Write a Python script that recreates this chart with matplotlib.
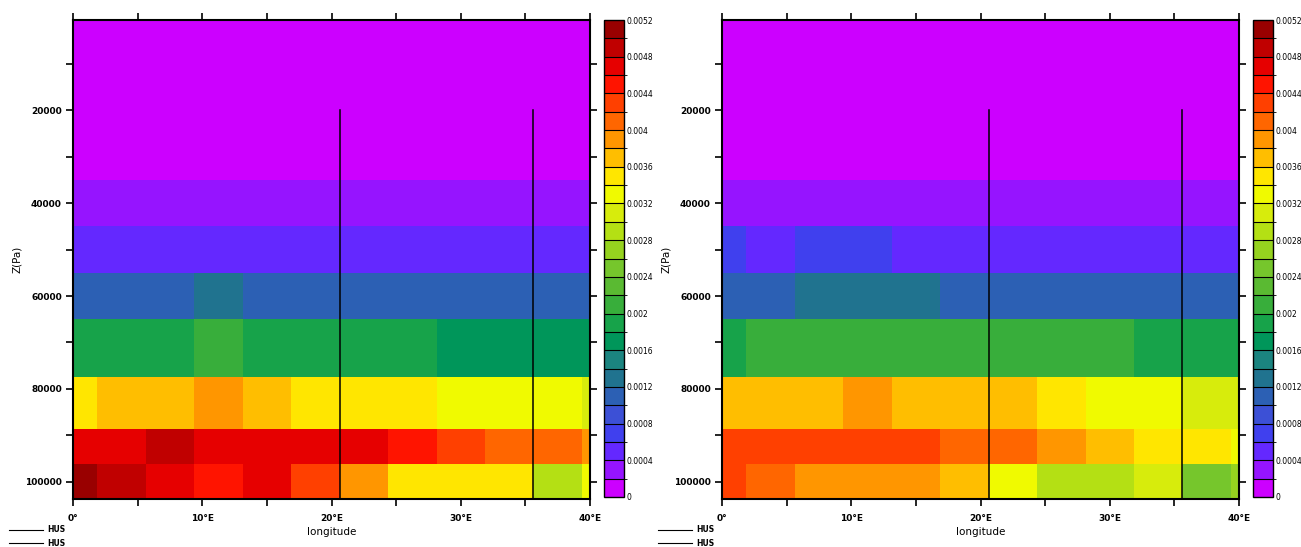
import numpy as np
import matplotlib
matplotlib.use('Agg')
import matplotlib.pyplot as plt
from matplotlib.colors import ListedColormap, BoundaryNorm

plt.rcParams['font.family'] = ['DejaVu Sans']

# pressure levels (Pa) and longitudes (deg E), grid centres
plev = [100000, 92500, 85000, 70000, 60000, 50000, 40000, 30000, 25000,
        20000, 15000, 10000, 7000, 5000, 3000, 2000, 1000]
lon = [0, 3.75, 7.5, 11.25, 15, 18.75, 22.5, 26.25, 30, 33.75, 37.5, 41.25]

# upper levels: same value along longitude (30000 Pa -> 1000 Pa)
upper_hus = [0.00015, 0.0001, 0.00006, 0.00003, 0.000008, 0.000004,
             0.000003, 0.000003, 0.000003, 0.000003]

# left panel, per level (kg/kg)
left_1000 = [0.0051, 0.0049, 0.0047, 0.0045, 0.0047, 0.0043, 0.0039, 0.0035, 0.0035, 0.0035, 0.0029, 0.0033]
left_925 = [0.0047, 0.0047, 0.0049, 0.0047, 0.0047, 0.0047, 0.0047, 0.0045, 0.0043, 0.0041, 0.0041, 0.0039]
left_850 = [0.0035, 0.0037, 0.0037, 0.0039, 0.0037, 0.0035, 0.0035, 0.0035, 0.0033, 0.0033, 0.0033, 0.0031]
left_700 = [0.0019, 0.0019, 0.0019, 0.0021, 0.0019, 0.0019, 0.0019, 0.0019, 0.0017, 0.0017, 0.0017, 0.0017]
left_600 = [0.0011, 0.0011, 0.0011, 0.0013, 0.0011, 0.0011, 0.0011, 0.0011, 0.0011, 0.0011, 0.0011, 0.0011]
left_500 = [0.0005] * 12
left_400 = [0.0003] * 12

# right panel, per level (kg/kg)
right_1000 = [0.0043, 0.0041, 0.0039, 0.0039, 0.0039, 0.0037, 0.0033, 0.0029, 0.0029, 0.0031, 0.0025, 0.0027]
right_925 = [0.0043, 0.0043, 0.0043, 0.0043, 0.0043, 0.0041, 0.0041, 0.0039, 0.0037, 0.0035, 0.0035, 0.0033]
right_850 = [0.0037, 0.0037, 0.0037, 0.0039, 0.0037, 0.0037, 0.0037, 0.0035, 0.0033, 0.0033, 0.0031, 0.0031]
right_700 = [0.0019, 0.0021, 0.0021, 0.0021, 0.0021, 0.0021, 0.0021, 0.0021, 0.0021, 0.0019, 0.0019, 0.0019]
right_600 = [0.0011, 0.0011, 0.0013, 0.0013, 0.0013, 0.0011, 0.0011, 0.0011, 0.0011, 0.0011, 0.0011, 0.0011]
right_500 = [0.0007, 0.0005, 0.0007, 0.0007, 0.0005, 0.0005, 0.0005, 0.0005, 0.0005, 0.0005, 0.0005, 0.0005]
right_400 = [0.0003] * 12

# vertical HUS lines
line_lon = [20.625, 35.625]
line_top = 20000

levels = np.round(np.arange(0, 0.00521, 0.0002), 5)
colors = ['#cc00ff', '#9614ff', '#6428ff', '#4040ee', '#3c50d6', '#2c60b4',
          '#20738f', '#1b8480', '#00965a', '#17a34a', '#38ae3b', '#5aba32',
          '#76c62c', '#96d31f', '#b4e014', '#d7ec0c', '#f0fa00', '#ffe600',
          '#ffbe00', '#ff9600', '#ff6600', '#ff4000', '#ff1400', '#e60000',
          '#c00000', '#990000']
cmap = ListedColormap(colors)
norm = BoundaryNorm(levels, cmap.N)


def build(rows):
    upper = [[v] * len(lon) for v in upper_hus]
    return np.array(rows + upper)


panels = [
    build([left_1000, left_925, left_850, left_700, left_600, left_500, left_400]),
    build([right_1000, right_925, right_850, right_700, right_600, right_500, right_400]),
]

W, H = 1301, 547
fig = plt.figure(figsize=(W / 100, H / 100), dpi=100)

ax_pos = [(73, 20, 590, 499), (722, 20, 1239, 499)]
cb_pos = [(604, 20, 624, 497), (1253, 20, 1273, 497)]

for data, (x0, y0, x1, y1), (c0, cy0, c1, cy1), lx in zip(panels, ax_pos, cb_pos, [9, 658]):
    ax = fig.add_axes([x0 / W, 1 - y1 / H, (x1 - x0) / W, (y1 - y0) / H])
    mesh = ax.pcolormesh(lon, plev, data, cmap=cmap, norm=norm, shading='nearest')
    ax.set_xlim(0, 40)
    ax.set_ylim(103750, 500)

    hl = []
    for xl in line_lon:
        h, = ax.plot([xl, xl], [line_top, 103750], color='black', lw=1.1)
        hl.append(h)

    ax.set_xticks([0, 10, 20, 30, 40])
    ax.set_xticklabels(['0°', '10°E', '20°E', '30°E', '40°E'])
    ax.set_xticks([5, 15, 25, 35], minor=True)
    ax.set_yticks([20000, 40000, 60000, 80000, 100000])
    ax.set_yticklabels(['20000', '40000', '60000', '80000', '100000'])
    ax.set_yticks([10000, 30000, 50000, 70000, 90000], minor=True)
    for which in ['major', 'minor']:
        ax.tick_params(axis='both', which=which, direction='out', length=5,
                       width=1.2, top=True, right=True, labelsize=6.5)
    for lab in ax.get_xticklabels() + ax.get_yticklabels():
        lab.set_fontweight('bold')
    ax.tick_params(axis='x', pad=6)
    ax.tick_params(axis='y', pad=3)
    for s in ax.spines.values():
        s.set_linewidth(1.5)
    ax.set_xlabel('longitude', fontsize=7.5, labelpad=3)
    ax.set_ylabel('Z(Pa)', fontsize=7.5, labelpad=2)

    leg = fig.legend(hl, ['HUS', 'HUS'], loc='upper left',
                     bbox_to_anchor=(lx / W, 1 - 525 / H), frameon=False,
                     prop={'size': 5.5, 'weight': 'bold'}, handlelength=4.5,
                     handleheight=0.5, labelspacing=0.6, borderpad=0,
                     borderaxespad=0, handletextpad=0.5)
    for lh in leg.get_lines():
        lh.set_linewidth(0.8)

    cax = fig.add_axes([c0 / W, 1 - cy1 / H, (c1 - c0) / W, (cy1 - cy0) / H])
    cb = fig.colorbar(mesh, cax=cax, drawedges=True)
    ticks = levels[::2]
    cb.set_ticks(ticks)
    cb.set_ticklabels([f'{t:g}' for t in ticks])
    cb.ax.tick_params(length=0, labelsize=5.5, pad=2)
    cb.outline.set_linewidth(1.0)
    cb.dividers.set_linewidth(0.8)

fig.savefig('out.png', dpi=100)
